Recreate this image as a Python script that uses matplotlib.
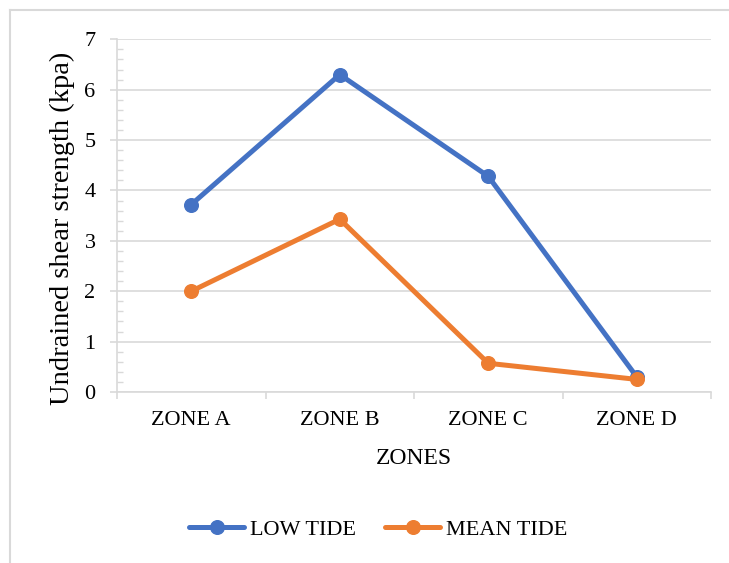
import matplotlib
matplotlib.use("Agg")
import matplotlib.pyplot as plt
from matplotlib.ticker import MultipleLocator, FixedLocator
from matplotlib.lines import Line2D

plt.rcParams['font.family'] = ['Liberation Serif', 'DejaVu Serif']

categories = ["ZONE A", "ZONE B", "ZONE C", "ZONE D"]
low_tide = [3.72, 6.30, 4.28, 0.30]
mean_tide = [2.00, 3.43, 0.57, 0.25]
series_names = ["LOW TIDE", "MEAN TIDE"]
y_ticks = [0, 1, 2, 3, 4, 5, 6, 7]

blue = '#4472C4'
orange = '#ED7D31'
grid = '#D9D9D9'

fig = plt.figure(figsize=(7.29, 5.63), dpi=100)
W, H = 729, 563
ax = fig.add_axes([117 / W, 1 - 392 / H, (711 - 117) / W, (392 - 39.3) / H])

x = list(range(len(categories)))
ax.plot(x, low_tide, color=blue, lw=3.6, marker='o', ms=9.8, label=series_names[0],
        solid_capstyle='round', zorder=3, clip_on=False)
ax.plot(x, mean_tide, color=orange, lw=3.6, marker='o', ms=9.8, label=series_names[1],
        solid_capstyle='round', zorder=4, clip_on=False)

ax.set_xlim(-0.5, len(categories) - 0.5)
ax.set_ylim(0, 7)
ax.set_yticks(y_ticks)
ax.yaxis.set_minor_locator(MultipleLocator(0.2))
ax.grid(axis='y', which='major', color=grid, lw=1.2)
ax.set_axisbelow(True)

ax.set_xticks(x)
ax.set_xticklabels(categories)
ax.xaxis.set_minor_locator(FixedLocator([i - 0.5 for i in range(len(categories) + 1)]))

ax.tick_params(axis='y', which='major', length=5, width=1.2, color=grid, direction='out',
               labelsize=16, pad=10.5)
ax.tick_params(axis='y', which='minor', length=4, width=1, color=grid, direction='in')
ax.tick_params(axis='x', which='major', length=0, labelsize=16, pad=13.5)
ax.tick_params(axis='x', which='minor', length=5, width=1.2, color=grid, direction='out')

for s in ['top', 'right']:
    ax.spines[s].set_visible(False)
for s in ['left', 'bottom']:
    ax.spines[s].set_color(grid)
    ax.spines[s].set_linewidth(1.2)

ax.set_ylabel("Undrained shear strength (kpa)", fontsize=20.5, va='center')
ax.yaxis.set_label_coords(-0.0926, 0.465)
ax.set_xlabel("ZONES", fontsize=17, va='top')
ax.xaxis.set_label_coords(0.5, -0.160)

fig.legend(loc='center', bbox_to_anchor=(378 / W, 1 - 530 / H), ncol=2, frameon=False,
           fontsize=16, handlelength=2.5, handletextpad=0.25, columnspacing=1.3)

# outer chart border (top and left visible)
fig.add_artist(Line2D([10 / W, 10 / W], [0, 1 - 10 / H], color=grid, lw=1.5,
                      transform=fig.transFigure))
fig.add_artist(Line2D([10 / W, 1], [1 - 10 / H, 1 - 10 / H], color=grid, lw=1.5,
                      transform=fig.transFigure))

fig.savefig("out.png", dpi=100)
